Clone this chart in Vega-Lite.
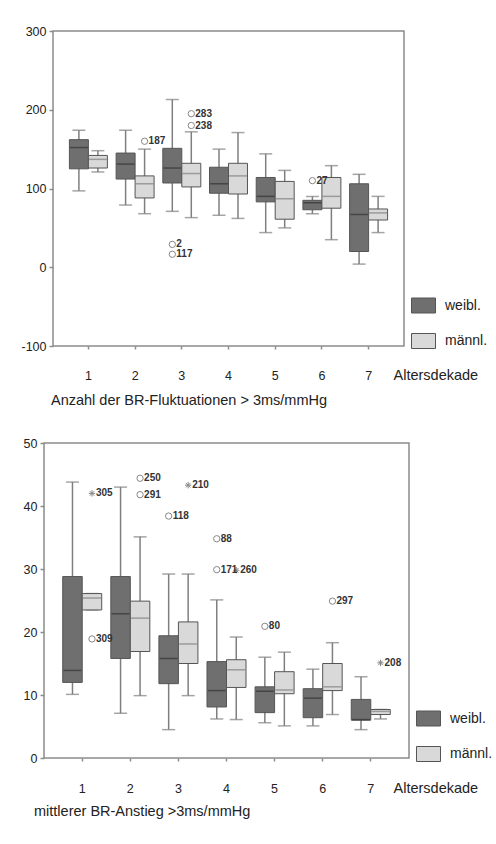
{
  "$schema": "https://vega.github.io/schema/vega-lite/v6.json",
  "padding": {"left": 20, "top": 24, "right": 0, "bottom": 0},
  "background": "white",
  "config": {
    "font": "Liberation Sans",
    "view": {"stroke": "#8c8c8c", "strokeWidth": 1.5},
    "axis": {"grid": false, "domain": false, "tickColor": "#8c8c8c", "tickWidth": 1.5, "labelColor": "#222222", "labelFontSize": 12.5, "labelFont": "Liberation Sans", "titleFont": "Liberation Sans", "titleFontWeight": "normal", "titleFontSize": 14.5, "titleColor": "#222222"},
    "axisY": {"tickSize": 4, "labelPadding": 3},
    "title": {"font": "Liberation Sans", "fontSize": 14.5, "fontWeight": "normal", "color": "#222222"},
    "legend": {"labelFont": "Liberation Sans", "labelFontSize": 14, "labelColor": "#222222", "padding": 0}
  },
  "datasets": {
    "box1": [
      {"decade": 1, "sex": "weibl.", "lo": 97, "q1": 125, "med": 152, "q3": 162, "hi": 174},
      {"decade": 1, "sex": "männl.", "lo": 121, "q1": 126, "med": 137, "q3": 142, "hi": 148},
      {"decade": 2, "sex": "weibl.", "lo": 79, "q1": 112, "med": 131, "q3": 145, "hi": 174},
      {"decade": 2, "sex": "männl.", "lo": 68, "q1": 88, "med": 106, "q3": 116, "hi": 150},
      {"decade": 3, "sex": "weibl.", "lo": 71, "q1": 107, "med": 126, "q3": 151, "hi": 213},
      {"decade": 3, "sex": "männl.", "lo": 63, "q1": 102, "med": 119, "q3": 132, "hi": 172},
      {"decade": 4, "sex": "weibl.", "lo": 66, "q1": 94, "med": 106, "q3": 127, "hi": 150},
      {"decade": 4, "sex": "männl.", "lo": 62, "q1": 93, "med": 116, "q3": 132, "hi": 171},
      {"decade": 5, "sex": "weibl.", "lo": 44, "q1": 83, "med": 90, "q3": 114, "hi": 144},
      {"decade": 5, "sex": "männl.", "lo": 50, "q1": 61, "med": 87, "q3": 109, "hi": 123},
      {"decade": 6, "sex": "weibl.", "lo": 68, "q1": 73, "med": 82, "q3": 85, "hi": 90},
      {"decade": 6, "sex": "männl.", "lo": 35, "q1": 75, "med": 90, "q3": 114, "hi": 129},
      {"decade": 7, "sex": "weibl.", "lo": 4, "q1": 20, "med": 67, "q3": 106, "hi": 118},
      {"decade": 7, "sex": "männl.", "lo": 44, "q1": 60, "med": 69, "q3": 74, "hi": 90}
    ],
    "out1": [
      {"decade": 2, "sex": "männl.", "value": 160, "label": "187", "kind": "o"},
      {"decade": 3, "sex": "weibl.", "value": 29, "label": "2", "kind": "o"},
      {"decade": 3, "sex": "weibl.", "value": 16.5, "label": "117", "kind": "o"},
      {"decade": 3, "sex": "männl.", "value": 195, "label": "283", "kind": "o"},
      {"decade": 3, "sex": "männl.", "value": 180, "label": "238", "kind": "o"},
      {"decade": 6, "sex": "weibl.", "value": 110, "label": "27", "kind": "o"}
    ],
    "box2": [
      {"decade": 1, "sex": "weibl.", "lo": 10.1, "q1": 12, "med": 13.9, "q3": 28.8, "hi": 43.8},
      {"decade": 1, "sex": "männl.", "lo": 23.5, "q1": 23.5, "med": 25.4, "q3": 26.1, "hi": 26.1},
      {"decade": 2, "sex": "weibl.", "lo": 7.1, "q1": 15.8, "med": 22.9, "q3": 28.8, "hi": 43},
      {"decade": 2, "sex": "männl.", "lo": 9.9, "q1": 16.9, "med": 22.2, "q3": 24.9, "hi": 35.1},
      {"decade": 3, "sex": "weibl.", "lo": 4.5, "q1": 11.8, "med": 15.8, "q3": 19.4, "hi": 29.2},
      {"decade": 3, "sex": "männl.", "lo": 9.9, "q1": 15, "med": 18.1, "q3": 21.6, "hi": 29.2},
      {"decade": 4, "sex": "weibl.", "lo": 6.2, "q1": 8.1, "med": 10.7, "q3": 15.3, "hi": 25.1},
      {"decade": 4, "sex": "männl.", "lo": 6.1, "q1": 11.2, "med": 14, "q3": 15.6, "hi": 19.2},
      {"decade": 5, "sex": "weibl.", "lo": 5.6, "q1": 7.2, "med": 10.6, "q3": 11.3, "hi": 16},
      {"decade": 5, "sex": "männl.", "lo": 5.1, "q1": 10.2, "med": 10.8, "q3": 13.7, "hi": 16.8},
      {"decade": 6, "sex": "weibl.", "lo": 5.1, "q1": 6.4, "med": 9.5, "q3": 11, "hi": 14.1},
      {"decade": 6, "sex": "männl.", "lo": 6.9, "q1": 10.7, "med": 11.3, "q3": 15, "hi": 18.3},
      {"decade": 7, "sex": "weibl.", "lo": 4.5, "q1": 6, "med": 6.1, "q3": 9.3, "hi": 12.9},
      {"decade": 7, "sex": "männl.", "lo": 6.2, "q1": 6.9, "med": 7.4, "q3": 7.7, "hi": 7.7}
    ],
    "out2": [
      {"decade": 1, "sex": "männl.", "value": 42, "label": "305", "kind": "*"},
      {"decade": 1, "sex": "männl.", "value": 18.9, "label": "309", "kind": "o"},
      {"decade": 2, "sex": "männl.", "value": 44.4, "label": "250", "kind": "o"},
      {"decade": 2, "sex": "männl.", "value": 41.8, "label": "291", "kind": "o"},
      {"decade": 3, "sex": "weibl.", "value": 38.4, "label": "118", "kind": "o"},
      {"decade": 3, "sex": "männl.", "value": 43.3, "label": "210", "kind": "*"},
      {"decade": 4, "sex": "weibl.", "value": 34.8, "label": "88", "kind": "o"},
      {"decade": 4, "sex": "weibl.", "value": 29.9, "label": "171", "kind": "o"},
      {"decade": 4, "sex": "männl.", "value": 29.8, "label": "260", "kind": "*"},
      {"decade": 5, "sex": "weibl.", "value": 20.9, "label": "80", "kind": "o"},
      {"decade": 6, "sex": "männl.", "value": 24.9, "label": "297", "kind": "o"},
      {"decade": 7, "sex": "männl.", "value": 15.1, "label": "208", "kind": "*"}
    ]
  },
  "concat": [
    {
      "hconcat": [
        {"width": 9, "height": 315, "data": {"values": []}, "mark": "point", "view": {"stroke": null}},
        {
          "width": 351,
          "height": 315,
          "title": {"text": "Anzahl der BR-Fluktuationen > 3ms/mmHg", "orient": "bottom", "anchor": "start", "frame": "group", "offset": 12, "dx": -2},
          "encoding": {
            "x": {"field": "decade", "type": "ordinal", "scale": {"paddingInner": 0, "paddingOuter": 0.258},
                  "axis": {"title": "Altersdekade", "labelAngle": 0, "tickSize": 3, "labelPadding": 26, "labelBaseline": "middle", "titleX": 340, "titleY": 29, "titleAnchor": "start", "titleAlign": "left", "titleBaseline": "middle"}},
            "xOffset": {"field": "sex", "type": "nominal", "scale": {"domain": ["weibl.", "männl."], "paddingInner": 0, "paddingOuter": 0.23}}
          },
          "layer": [
            {"data": {"name": "box1"}, "mark": {"type": "rule", "color": "#7f7f7f", "strokeWidth": 1.5},
             "encoding": {"y": {"field": "lo", "type": "quantitative", "title": null, "scale": {"domain": [-100, 300], "nice": false}, "axis": {"values": [-100, 0, 100, 200, 300], "labelExpr": "'' + datum.value"}}, "y2": {"field": "hi"}}},
            {"data": {"name": "box1"}, "mark": {"type": "tick", "color": "#7f7f7f", "thickness": 1.5, "size": 13},
             "encoding": {"y": {"field": "lo", "type": "quantitative", "title": null}}},
            {"data": {"name": "box1"}, "mark": {"type": "tick", "color": "#7f7f7f", "thickness": 1.5, "size": 13},
             "encoding": {"y": {"field": "hi", "type": "quantitative", "title": null}}},
            {"data": {"name": "box1"}, "mark": {"type": "bar", "stroke": "#555555", "strokeWidth": 1},
             "encoding": {"y": {"field": "q1", "type": "quantitative", "title": null}, "y2": {"field": "q3"},
               "fill": {"field": "sex", "type": "nominal", "scale": {"domain": ["weibl.", "männl."], "range": ["#6f6f6f", "#d9d9d9"]},
                 "legend": {"title": null, "orient": "none", "legendX": 358, "legendY": 262, "symbolType": "M-1,-0.625H1V0.625H-1Z", "symbolSize": 576, "symbolStrokeColor": "#555555", "symbolStrokeWidth": 1, "rowPadding": 13.5, "labelOffset": 9}}}},
            {"data": {"name": "box1"}, "transform": [{"filter": "datum.sex === 'weibl.'"}], "mark": {"type": "tick", "color": "#333333", "thickness": 1.5, "size": 18},
             "encoding": {"y": {"field": "med", "type": "quantitative", "title": null}}},
            {"data": {"name": "box1"}, "transform": [{"filter": "datum.sex === 'männl.'"}], "mark": {"type": "tick", "color": "#808080", "thickness": 1.5, "size": 18},
             "encoding": {"y": {"field": "med", "type": "quantitative", "title": null}}},
            {"data": {"name": "out1"}, "mark": {"type": "point", "filled": false, "stroke": "#555555", "strokeWidth": 1, "size": 40},
             "encoding": {"y": {"field": "value", "type": "quantitative", "title": null},
               "shape": {"field": "kind", "type": "nominal", "scale": {"domain": ["o", "*"], "range": ["circle", "M-1,0H1M0,-1V1M-0.7,-0.7L0.7,0.7M-0.7,0.7L0.7,-0.7"]}, "legend": null}}},
            {"data": {"name": "out1"}, "mark": {"type": "text", "align": "left", "dx": 4, "fontSize": 10, "fontWeight": "bold", "color": "#333333"},
             "encoding": {"y": {"field": "value", "type": "quantitative", "title": null}, "text": {"field": "label"}}}
          ]
        }
      ],
      "spacing": 0,
      "bounds": "flush",
      "resolve": {
        "scale": {"x": "independent", "y": "independent", "fill": "independent", "shape": "independent"},
        "legend": {"fill": "independent"}
      }
    },
    {
      "width": 365,
      "height": 315,
      "title": {"text": "mittlerer BR-Anstieg >3ms/mmHg", "orient": "bottom", "anchor": "start", "frame": "group", "offset": 10, "dx": -10},
      "encoding": {
        "x": {"field": "decade", "type": "ordinal", "scale": {"paddingInner": 0, "paddingOuter": 0.295},
              "axis": {"title": "Altersdekade", "labelAngle": 0, "tickSize": 3, "labelPadding": 27.7, "labelBaseline": "middle", "titleX": 349, "titleY": 30.7, "titleAnchor": "start", "titleAlign": "left", "titleBaseline": "middle"}},
        "xOffset": {"field": "sex", "type": "nominal", "scale": {"domain": ["weibl.", "männl."], "paddingInner": 0, "paddingOuter": 0.233}}
      },
      "layer": [
        {"data": {"name": "box2"}, "mark": {"type": "rule", "color": "#7f7f7f", "strokeWidth": 1.5},
         "encoding": {"y": {"field": "lo", "type": "quantitative", "title": null, "scale": {"domain": [0, 50], "nice": false}, "axis": {"values": [0, 10, 20, 30, 40, 50], "labelExpr": "'' + datum.value"}}, "y2": {"field": "hi"}}},
        {"data": {"name": "box2"}, "mark": {"type": "tick", "color": "#7f7f7f", "thickness": 1.5, "size": 13},
         "encoding": {"y": {"field": "lo", "type": "quantitative", "title": null}}},
        {"data": {"name": "box2"}, "mark": {"type": "tick", "color": "#7f7f7f", "thickness": 1.5, "size": 13},
         "encoding": {"y": {"field": "hi", "type": "quantitative", "title": null}}},
        {"data": {"name": "box2"}, "mark": {"type": "bar", "stroke": "#555555", "strokeWidth": 1},
         "encoding": {"y": {"field": "q1", "type": "quantitative", "title": null}, "y2": {"field": "q3"},
           "fill": {"field": "sex", "type": "nominal", "scale": {"domain": ["weibl.", "männl."], "range": ["#6f6f6f", "#d9d9d9"]},
             "legend": {"title": null, "orient": "none", "legendX": 372, "legendY": 263, "symbolType": "M-1,-0.625H1V0.625H-1Z", "symbolSize": 576, "symbolStrokeColor": "#555555", "symbolStrokeWidth": 1, "rowPadding": 13.5, "labelOffset": 9}}}},
        {"data": {"name": "box2"}, "transform": [{"filter": "datum.sex === 'weibl.'"}], "mark": {"type": "tick", "color": "#333333", "thickness": 1.5, "size": 18},
         "encoding": {"y": {"field": "med", "type": "quantitative", "title": null}}},
        {"data": {"name": "box2"}, "transform": [{"filter": "datum.sex === 'männl.'"}], "mark": {"type": "tick", "color": "#808080", "thickness": 1.5, "size": 18},
         "encoding": {"y": {"field": "med", "type": "quantitative", "title": null}}},
        {"data": {"name": "out2"}, "mark": {"type": "point", "filled": false, "stroke": "#555555", "strokeWidth": 1, "size": 40},
         "encoding": {"y": {"field": "value", "type": "quantitative", "title": null},
           "shape": {"field": "kind", "type": "nominal", "scale": {"domain": ["o", "*"], "range": ["circle", "M-1,0H1M0,-1V1M-0.7,-0.7L0.7,0.7M-0.7,0.7L0.7,-0.7"]}, "legend": null}}},
        {"data": {"name": "out2"}, "mark": {"type": "text", "align": "left", "dx": 4, "fontSize": 10, "fontWeight": "bold", "color": "#333333"},
         "encoding": {"y": {"field": "value", "type": "quantitative", "title": null}, "text": {"field": "label"}}}
      ]
    }
  ],
  "columns": 1,
  "spacing": 28,
  "resolve": {
    "scale": {"x": "independent", "y": "independent", "xOffset": "independent", "fill": "independent", "shape": "independent"},
    "legend": {"fill": "independent"}
  }
}
